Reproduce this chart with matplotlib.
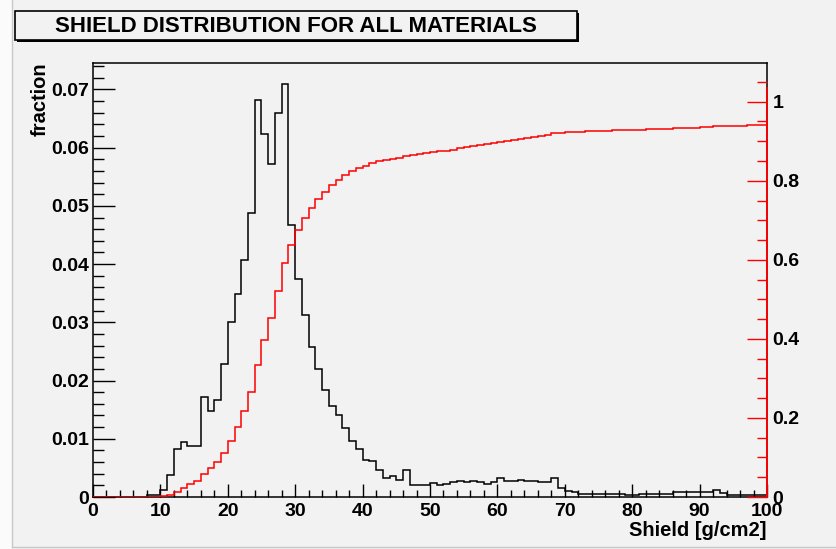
import numpy as np
import matplotlib.pyplot as plt
from matplotlib.patches import Rectangle
from matplotlib.ticker import MultipleLocator, FuncFormatter

plt.rcParams['font.family'] = ['Liberation Sans', 'DejaVu Sans']
plt.rcParams['font.weight'] = 'bold'

# shield thickness bins, 1 g/cm2 wide, 0..100
bin_edges = np.arange(0, 101, 1)

# fraction of tracks per bin (all materials)
shield_frac = [
    0, 0, 0, 0, 0, 0, 0, 0, 0.0003, 0.0003,
    0.0012, 0.0038, 0.0082, 0.0094, 0.0087, 0.0087, 0.0172, 0.0147, 0.0167, 0.0228,
    0.0301, 0.0348, 0.0407, 0.0487, 0.0682, 0.0623, 0.0572, 0.0660, 0.0710, 0.0467,
    0.0374, 0.0312, 0.0257, 0.0220, 0.0184, 0.0157, 0.0140, 0.0118, 0.0097, 0.0082,
    0.0064, 0.0061, 0.0046, 0.0033, 0.0036, 0.0030, 0.0047, 0.0021, 0.0021, 0.0021,
    0.0024, 0.0021, 0.0022, 0.0025, 0.0028, 0.0026, 0.0028, 0.0026, 0.0023, 0.0025,
    0.0032, 0.0028, 0.0028, 0.0030, 0.0028, 0.0028, 0.0025, 0.0025, 0.0032, 0.0016,
    0.0011, 0.0008, 0.0006, 0.0006, 0.0006, 0.0006, 0.0006, 0.0006, 0.0005, 0.0004,
    0.0004, 0.0006, 0.0006, 0.0006, 0.0006, 0.0006, 0.0008, 0.0008, 0.0008, 0.0008,
    0.0009, 0.0009, 0.0012, 0.0007, 0.0004, 0.0004, 0.0004, 0.0004, 0.0004, 0.0004,
]

title = 'SHIELD DISTRIBUTION FOR ALL MATERIALS'
xlabel = 'Shield [g/cm2]'
ylabel = 'fraction'

frac = np.array(shield_frac)
cumulative = np.cumsum(frac)

bg = '#f2f2f2'
W, H = 837, 549
fig = plt.figure(figsize=(W / 100, H / 100), dpi=100, facecolor=bg)

# canvas border
fig.patches.append(Rectangle((0, 0), 12 / W, 1, transform=fig.transFigure,
                             facecolor='#fbfbfb', edgecolor='none', zorder=0))
fig.add_artist(plt.Line2D([12 / W, 12 / W], [2 / H, 1], color='#c8c8c8', lw=1))
fig.add_artist(plt.Line2D([12 / W, 1], [2 / H, 2 / H], color='#c8c8c8', lw=1))

ax = fig.add_axes([93 / W, 52 / H, 674 / W, 434 / H], facecolor=bg)
ax.stairs(frac, bin_edges, color='black', lw=1.1)
ax.set_xlim(0, 100)
ax.set_ylim(0, 1.05 * frac.max())

ax.xaxis.set_major_locator(MultipleLocator(10))
ax.xaxis.set_minor_locator(MultipleLocator(2))
ax.yaxis.set_major_locator(MultipleLocator(0.01))
ax.yaxis.set_minor_locator(MultipleLocator(0.002))
fmt = FuncFormatter(lambda v, p: '%g' % round(v, 6))
ax.xaxis.set_major_formatter(fmt)
ax.yaxis.set_major_formatter(fmt)

ax.tick_params(axis='x', which='major', direction='in', length=9.5, width=1,
               labelsize=14, pad=4)
ax.tick_params(axis='x', which='minor', direction='in', length=4.7, width=1)
ax.tick_params(axis='y', which='major', direction='in', length=15.5, width=1,
               labelsize=14, pad=3)
ax.tick_params(axis='y', which='minor', direction='in', length=8, width=1)
ax.tick_params(top=False, right=False, which='both')
for s in ax.spines.values():
    s.set_linewidth(1.1)
    s.set_color('black')

# cumulative distribution on the right-hand axis
ax2 = ax.twinx()
ax2.patch.set_visible(False)
ax2.stairs(cumulative, bin_edges, color='red', lw=1.1)
ax2.set_ylim(0, 1.098)
ax2.yaxis.set_major_locator(MultipleLocator(0.2))
ax2.yaxis.set_minor_locator(MultipleLocator(0.05))
ax2.yaxis.set_major_formatter(fmt)
ax2.tick_params(axis='y', which='major', direction='in', length=14.5, width=1,
                color='red', labelcolor='black', labelsize=14, pad=4)
ax2.tick_params(axis='y', which='minor', direction='in', length=7, width=1,
                color='red')
for name in ('left', 'top', 'bottom'):
    ax2.spines[name].set_visible(False)
ax2.spines['right'].set_color('red')
ax2.spines['right'].set_linewidth(1.3)
ax2.spines['right'].set_bounds(0, 1.1 * cumulative[-1])

fig.text(767 / W, 1 - 531 / H, xlabel, ha='right', va='center',
         fontsize=14.5, fontweight='bold')
fig.text(40 / W, 1 - 62 / H, ylabel, ha='center', va='top', rotation=90,
         fontsize=14.5, fontweight='bold')

# title box with drop shadow
fig.patches.append(Rectangle((17 / W, 1 - 42 / H), 562 / W, 29 / H,
                             transform=fig.transFigure, facecolor='black',
                             edgecolor='none', zorder=2))
fig.patches.append(Rectangle((15 / W, 1 - 40 / H), 562 / W, 29 / H,
                             transform=fig.transFigure, facecolor=bg,
                             edgecolor='black', lw=1.2, zorder=3))
fig.text(296 / W, 1 - 26 / H, title, ha='center', va='center',
         fontsize=16, fontweight='bold', zorder=4)

fig.savefig('out.png', dpi=100, facecolor=bg)
